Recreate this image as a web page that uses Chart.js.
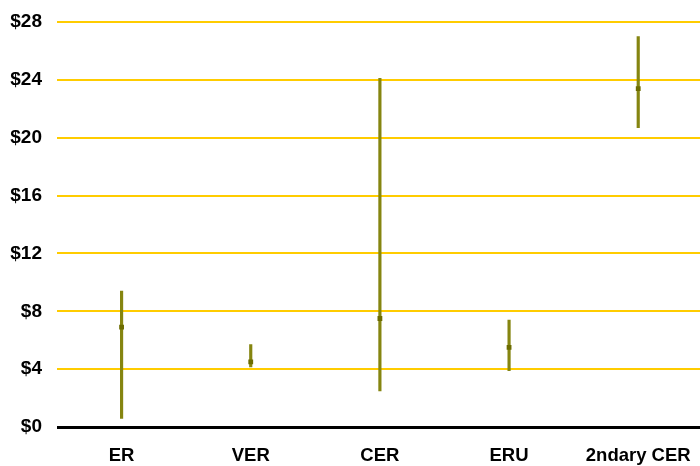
<!DOCTYPE html>
<html>
<head>
<meta charset="utf-8">
<script src="https://cdn.jsdelivr.net/npm/chart.js@4"></script>
<style>
html,body{margin:0;padding:0;background:#fff;overflow:hidden;}
#wrap{width:709px;height:466px;position:relative;}
</style>
</head>
<body>
<div id="wrap"><canvas id="c"></canvas></div>
<script>
const categories = ["ER", "VER", "CER", "ERU", "2ndary CER"];
const lowValues  = [0.6, 4.15, 2.5, 3.9, 20.7];
const highValues = [9.4, 5.7, 24.1, 7.4, 27.0];
const midValues  = [6.9, 4.5, 7.5, 5.5, 23.4];
const yTicks = [0, 4, 8, 12, 16, 20, 24, 28];

const ranges = categories.map((c, i) => [lowValues[i], highValues[i]]);

new Chart(document.getElementById('c'), {
  type: 'bar',
  data: {
    labels: categories,
    datasets: [
      {
        type: 'line',
        data: midValues,
        showLine: false,
        pointStyle: 'rect',
        pointRadius: 3.4,
        pointHoverRadius: 3.4,
        pointBackgroundColor: '#6c6c00',
        pointBorderColor: '#6c6c00',
        pointBorderWidth: 0,
        order: 0
      },
      {
        type: 'bar',
        data: ranges,
        backgroundColor: '#858510',
        borderWidth: 0,
        barThickness: 2.5,
        borderSkipped: false,
        order: 1
      }
    ]
  },
  options: {
    responsive: true,
    maintainAspectRatio: false,
    animation: false,
    layout: { padding: { top: 22, right: 0, left: 0, bottom: 0 } },
    plugins: { legend: { display: false }, tooltip: { enabled: false } },
    scales: {
      x: {
        grid: { display: false, drawTicks: false },
        border: { display: false },
        afterFit: (scale) => { scale.height = 39; },
        ticks: {
          color: '#000',
          font: { family: 'Liberation Sans, Arial, sans-serif', size: 18.5, weight: 'bold' },
          padding: 18,
          maxRotation: 0
        }
      },
      y: {
        min: 0,
        max: 28,
        afterBuildTicks: (scale) => { scale.ticks = yTicks.map(v => ({ value: v })); },
        afterFit: (scale) => { scale.width = 57; scale.paddingTop = 0; scale.paddingBottom = 0; },
        grid: {
          drawTicks: false,
          color: (ctx) => ctx.tick && ctx.tick.value === 0 ? '#000000' : '#FFCC00',
          lineWidth: (ctx) => ctx.tick && ctx.tick.value === 0 ? 3 : 2
        },
        border: { display: false },
        ticks: {
          color: '#000',
          font: { family: 'Liberation Sans, Arial, sans-serif', size: 19, weight: 'bold' },
          padding: 15,
          callback: (v) => '$' + v
        }
      }
    }
  }
});
</script>
</body>
</html>
